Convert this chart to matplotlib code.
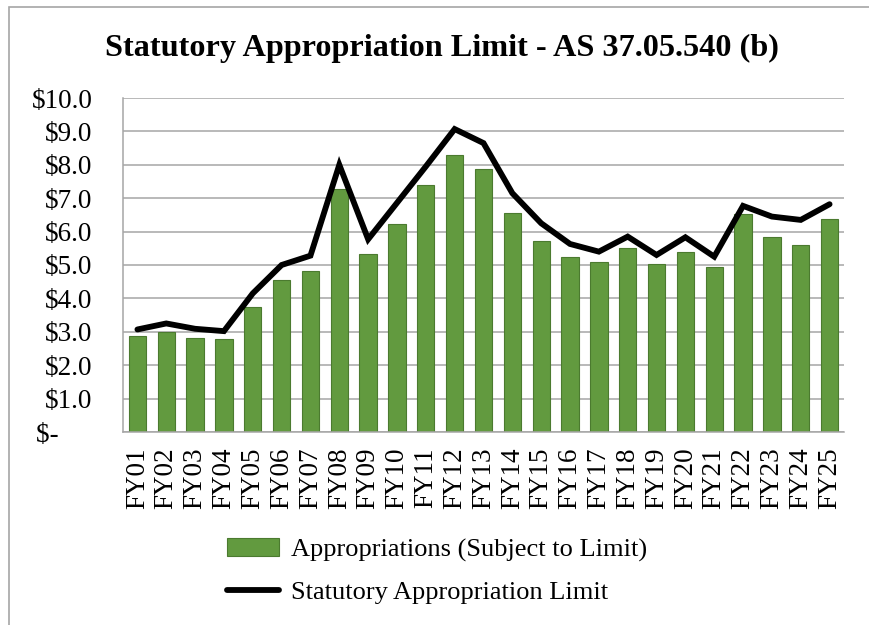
import matplotlib.pyplot as plt
from matplotlib.patches import Rectangle
from matplotlib.legend_handler import HandlerPatch

plt.rcParams['font.family'] = ['Liberation Serif', 'DejaVu Serif']

years = ['FY01', 'FY02', 'FY03', 'FY04', 'FY05', 'FY06', 'FY07', 'FY08', 'FY09',
         'FY10', 'FY11', 'FY12', 'FY13', 'FY14', 'FY15', 'FY16', 'FY17', 'FY18',
         'FY19', 'FY20', 'FY21', 'FY22', 'FY23', 'FY24', 'FY25']
# billions of dollars
appropriations = [2.87, 2.99, 2.81, 2.78, 3.75, 4.56, 4.82, 7.28, 5.33, 6.23,
                  7.41, 8.29, 7.87, 6.57, 5.72, 5.25, 5.09, 5.51, 5.03, 5.40,
                  4.94, 6.54, 5.83, 5.59, 6.39]
limit = [3.07, 3.25, 3.09, 3.02, 4.15, 5.00, 5.28, 8.00, 5.77, 6.86,
         7.95, 9.07, 8.65, 7.15, 6.25, 5.63, 5.40, 5.85, 5.30, 5.83,
         5.25, 6.77, 6.45, 6.35, 6.82]
yticks = [0, 1, 2, 3, 4, 5, 6, 7, 8, 9, 10]
ytick_labels = ['$-     '] + [f'${v:.1f}' for v in yticks[1:]]

fig = plt.figure(figsize=(8.7, 6.25), dpi=100)
# chart border (cut off at right/bottom like the original screenshot)
fig.patches.append(Rectangle((9 / 870, -0.1), 1.2, 1 - 7 / 625 + 0.1,
                             transform=fig.transFigure, fill=False,
                             edgecolor='#a6a6a6', linewidth=1.2))

ax = fig.add_axes([123 / 870, 1 - 432 / 625, 721 / 870, 334 / 625])
x = range(len(years))
bars = ax.bar(x, appropriations, width=0.6, color='#629a3f', edgecolor='#4b7a2f',
              linewidth=0.8, label='Appropriations (Subject to Limit)', zorder=2)
line, = ax.plot(x, limit, color='black', linewidth=4.2, solid_capstyle='round',
                solid_joinstyle='miter', label='Statutory Appropriation Limit', zorder=3)

ax.set_xlim(-0.5, len(years) - 0.5)
ax.set_ylim(0, 10)
ax.set_yticks(yticks)
ax.set_yticklabels(ytick_labels)
ax.set_xticks(list(x))
ax.set_xticklabels(years, rotation=90)
ax.tick_params(axis='both', length=0, labelsize=19.5)
ax.tick_params(axis='y', pad=22)
ax.tick_params(axis='x', pad=11)
ax.grid(axis='y', color='#a6a6a6', linewidth=1.1, zorder=0)
ax.set_axisbelow(True)
for s in ['top', 'right']:
    ax.spines[s].set_visible(False)
for s in ['left', 'bottom']:
    ax.spines[s].set_color('#a6a6a6')
    ax.spines[s].set_linewidth(1.1)

fig.text(442 / 870, 1 - 48 / 625, 'Statutory Appropriation Limit - AS 37.05.540 (b)',
         ha='center', va='center', fontsize=23.2, fontweight='bold')


# flatter legend swatch for the bars
def flat_patch(legend, orig_handle, xdescent, ydescent, width, height, fontsize):
    return Rectangle((-xdescent, -ydescent + height * 0.25), width, height * 0.5)


fig.legend([bars, line], [bars.get_label(), line.get_label()],
           loc='center', bbox_to_anchor=(437 / 870, 1 - 571 / 625), frameon=False,
           fontsize=19, handlelength=2.0, handletextpad=0.45, labelspacing=0.72,
           handler_map={type(bars.patches[0]): HandlerPatch(patch_func=flat_patch)})

fig.savefig('out.png', dpi=100)
